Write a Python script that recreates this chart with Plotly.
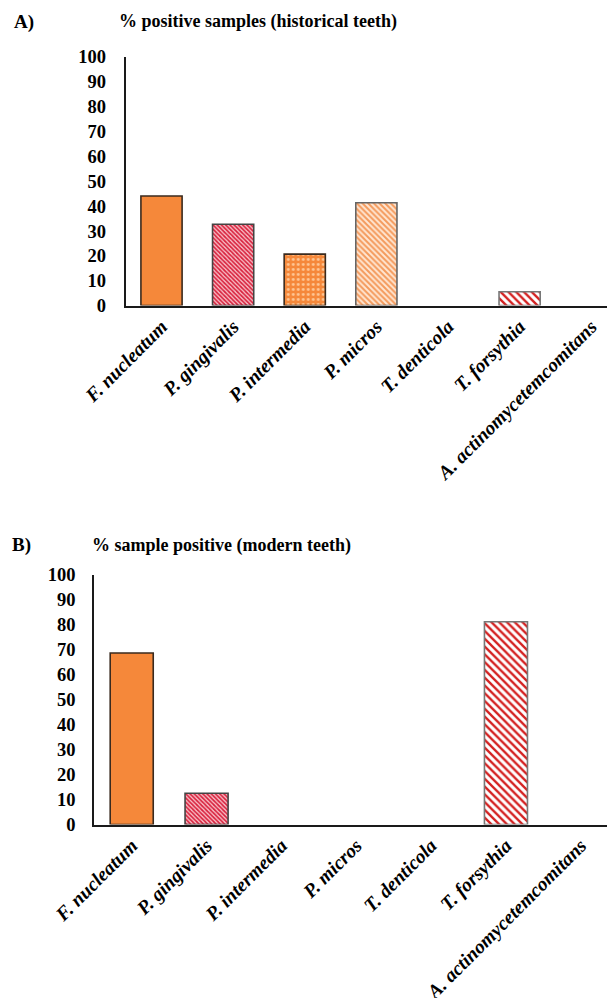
import plotly.graph_objects as go

categories = ["F. nucleatum", "P. gingivalis", "P. intermedia", "P. micros",
              "T. denticola", "T. forsythia", "A. actinomycetemcomitans"]
historical = [44.1, 32.7, 20.7, 41.4, 0, 5.6, 0]
modern = [68.75, 12.5, 0, 0, 0, 81.25, 0]
y_ticks = list(range(0, 101, 10))

OFF = 8                    # default page margin of the html body
W, H = 615 - 2 * OFF, 1006 - 2 * OFF
FONT = "Liberation Serif"

# per-category styles
pat_shape = ["", "\\", ".", "\\", "", "\\", ""]
pat_fg = ["#F5883A", "#D8203C", "#FFC896", "#F49A5C", "#ffffff", "#D42020", "#ffffff"]
pat_bg = ["#F5883A", "#F8C0C8", "#F5883A", "#FFE6D2", "#ffffff", "#ffffff", "#ffffff"]
pat_size = [6, 3, 5, 4, 6, 5.5, 6]
pat_sol = [0.3, 0.55, 0.25, 0.5, 0.3, 0.42, 0.3]
line_col = ["#3a2a1e", "#444444", "#3a2a1e", "#666666", "#666666", "#777777", "#666666"]

fig = go.Figure()


def add_panel(values, xa, ya):
    for i, cat in enumerate(categories):
        if values[i] <= 0:
            continue
        pattern = dict(shape=pat_shape[i], fgcolor=pat_fg[i], bgcolor=pat_bg[i],
                       size=pat_size[i], solidity=pat_sol[i], fillmode="replace")
        fig.add_trace(go.Bar(
            x=[cat], y=[values[i]], xaxis=xa, yaxis=ya, width=0.575,
            marker=dict(color=pat_bg[i], line=dict(color=line_col[i], width=1.6),
                        pattern=pattern),
            showlegend=False, hoverinfo="x+y",
        ))
    fig.add_trace(go.Bar(x=categories, y=[0] * len(categories), xaxis=xa, yaxis=ya,
                         marker=dict(color="rgba(0,0,0,0)"), showlegend=False,
                         hoverinfo="skip"))


add_panel(historical, "x", "y")
add_panel(modern, "x2", "y2")


def pxf(px):
    return (px - OFF) / W


def pyf(py):
    return 1 - (py - OFF) / H


axis_common = dict(showline=True, linecolor="#1a1a1a", linewidth=2,
                   showgrid=False, zeroline=False, ticks="", automargin=False)
xfont = dict(family=FONT, size=19.5, color="black", weight="bold", style="italic")
yfont = dict(family=FONT, size=18.5, color="black", weight="bold")

fig.update_layout(
    template="none",
    width=W, height=H, margin=dict(l=0, r=0, t=0, b=0, autoexpand=False),
    paper_bgcolor="white", plot_bgcolor="white",
    barmode="overlay",
    xaxis=dict(domain=[pxf(125.7), 1], anchor="y", type="category",
               categoryorder="array", categoryarray=categories,
               range=[-0.5, 6.22], tickangle=-45, tickfont=xfont, **axis_common),
    yaxis=dict(domain=[pyf(305.6), pyf(57)], anchor="x", range=[0, 100],
               tickvals=y_ticks, tickfont=yfont, ticklabelstandoff=14, **axis_common),
    xaxis2=dict(domain=[pxf(94.3), 1], anchor="y2", type="category",
                categoryorder="array", categoryarray=categories,
                range=[-0.5, 6.35], tickangle=-45, tickfont=xfont, **axis_common),
    yaxis2=dict(domain=[pyf(824.5), pyf(575)], anchor="x2", range=[0, 100],
                tickvals=y_ticks, tickfont=yfont, ticklabelstandoff=13, **axis_common),
)

tfont = dict(family=FONT, size=18, color="black", weight="bold")
annots = [
    ("A)", 12, 22, 19),
    ("% positive samples (historical teeth)", 117, 22, 18),
    ("B)", 10, 545, 19),
    ("% sample positive (modern teeth)", 90, 545, 18),
]
for text, xp, yp, sz in annots:
    f = dict(tfont)
    f["size"] = sz
    fig.add_annotation(text=text, xref="paper", yref="paper", x=pxf(xp), y=pyf(yp),
                       xanchor="left", yanchor="middle", showarrow=False, font=f)

fig.write_html("out.html")
